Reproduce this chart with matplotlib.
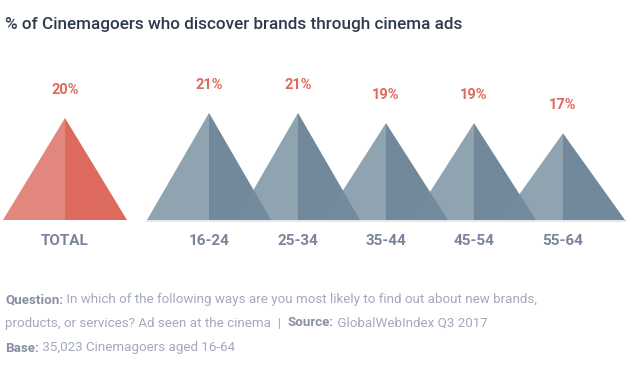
import matplotlib.pyplot as plt
from matplotlib.patches import Polygon

# data
categories = ["TOTAL", "16-24", "25-34", "35-44", "45-54", "55-64"]
values = [20, 21, 21, 19, 19, 17]
labels = ["20%", "21%", "21%", "19%", "19%", "17%"]

# layout (pixel x positions of the triangle centres)
centers = [65, 209, 298, 386, 474, 563]
half_w = 62
px_per_pct = 5.1

plt.rcParams['font.family'] = ['Roboto', 'DejaVu Sans']

fig = plt.figure(figsize=(6.35, 3.68), dpi=100)
ax = fig.add_axes([0, 0, 1, 1])
ax.set_xlim(0, 635)
# baseline at y=220px
ax.set_ylim(-148 / px_per_pct, 220 / px_per_pct)
ax.axis('off')

ax.plot([147, 626], [-0.25, -0.25], color='#dde4ea', lw=1.2, zorder=0)

for i, (cat, v, lab, cx) in enumerate(zip(categories, values, labels, centers)):
    if i == 0:
        cl, cr, al = '#e2877e', '#de695d', 1.0
    else:
        cl, cr, al = '#738c9e', '#72899b', 0.8
    ax.add_patch(Polygon([(cx, 0), (cx, v), (cx + half_w, 0)], closed=True,
                         facecolor=cr, edgecolor='none', zorder=2 + 2 * i))
    ax.add_patch(Polygon([(cx - half_w, 0), (cx, v), (cx, 0)], closed=True,
                         facecolor=cl, edgecolor='none', alpha=al, zorder=3 + 2 * i))
    ax.text(cx, v + 28 / px_per_pct, lab, ha='center', va='center', fontsize=10.5,
            fontweight='bold', color='#e0695e')
    ax.text(cx, -21 / px_per_pct, cat, ha='center', va='center', fontsize=11,
            fontweight='bold', color='#7b849b')

fig.text(5 / 635, 1 - 25 / 368, "% of Cinemagoers who discover brands through cinema ads",
         ha='left', va='center', fontsize=12.3, fontweight='medium', color='#2f3b4c')

renderer = fig.canvas.get_renderer()


def rich_line(y_px, parts, fs=9.6):
    x = 5
    for txt, bold in parts:
        t = fig.text(x / 635, 1 - y_px / 368, txt, ha='left', va='center', fontsize=fs,
                     fontweight='bold' if bold else 'normal',
                     color='#8a90a3' if bold else '#a3a9bb')
        x += t.get_window_extent(renderer).width


rich_line(300, [("Question:", True),
                (" In which of the following ways are you most likely to find out about new brands,", False)])
rich_line(323, [("products, or services? Ad seen at the cinema  |  ", False),
                ("Source:", True), (" GlobalWebIndex Q3 2017", False)])
rich_line(348, [("Base:", True), (" 35,023 Cinemagoers aged 16-64", False)])

fig.savefig('out.png', dpi=100)
